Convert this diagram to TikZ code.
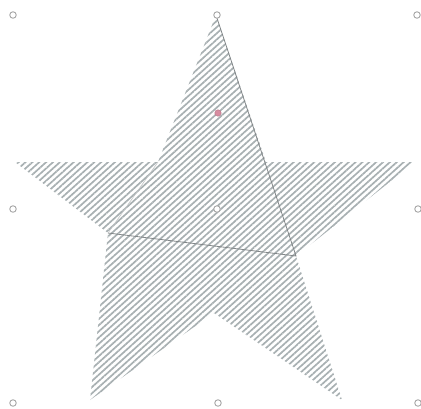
\documentclass[tikz,border=0pt]{standalone}
\usetikzlibrary{patterns.meta}
\definecolor{hatch}{RGB}{168,176,178}
\definecolor{edge}{RGB}{130,135,137}
\definecolor{dotred}{RGB}{215,140,160}
\tikzset{
  gridpt/.style={circle,draw=gray!70,line width=0.9pt,inner sep=0pt,minimum size=6.5pt,fill=white},
  starfill/.style={pattern={Lines[angle=42,distance=4.6pt,line width=1.7pt]},pattern color=hatch},
  inner/.style={draw=edge,line width=0.8pt}
}
\begin{document}
\begin{tikzpicture}[x=1pt,y=-1pt]
\useasboundingbox (0,0) rectangle (421,408);
% star vertices
\coordinate (T) at (216,15);
\coordinate (TR) at (266,162);
\coordinate (R) at (415,162);
\coordinate (RL) at (296,256);
\coordinate (BR) at (342,400);
\coordinate (B) at (214,313);
\coordinate (BL) at (90,400);
\coordinate (LL) at (108,233);
\coordinate (L) at (15,162);
\coordinate (TL) at (158,162);
\fill[starfill] (T) -- (TR) -- (R) -- (RL) -- (BR) -- (B) -- (BL) -- (LL) -- (L) -- (TL) -- cycle;
% inner triangle lines
\draw[inner] (T) -- (RL) -- (LL);
\draw[draw=edge!50,line width=0.6pt] (TL) -- (LL);
% grid markers
\node[gridpt] (p11) at (13,15) {};
\node[gridpt] (p12) at (217,15) {};
\node[gridpt] (p13) at (417,15) {};
\node[gridpt] (p21) at (13,209) {};
\node[gridpt] (p22) at (217,209) {};
\node[gridpt] (p23) at (418,209) {};
\node[gridpt] (p31) at (13,403) {};
\node[gridpt] (p32) at (218,403) {};
\node[gridpt] (p33) at (418,403) {};
\node[circle,fill=dotred,draw=dotred!85!black,line width=0.4pt,inner sep=0pt,minimum size=6.5pt] (red) at (218,113) {};
\end{tikzpicture}
\end{document}
